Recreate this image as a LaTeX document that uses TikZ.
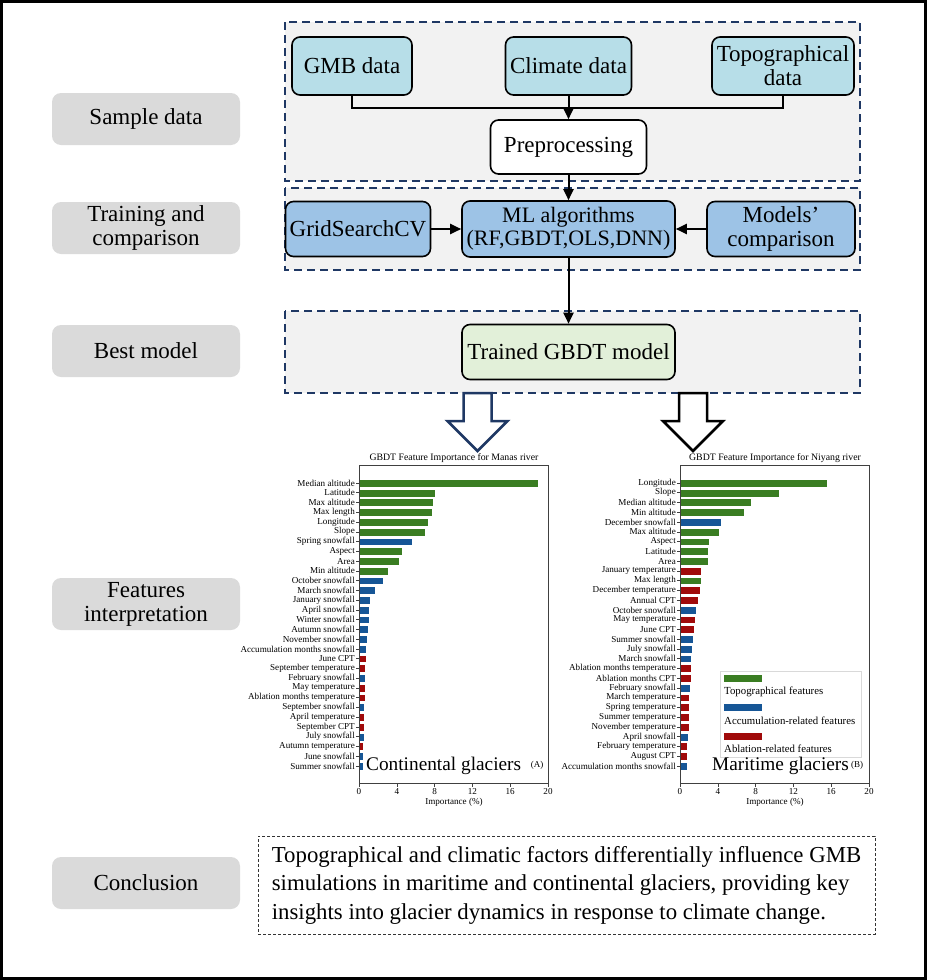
\documentclass[tikz,border=0pt]{standalone}
\usepackage{fontspec}
\setmainfont{Liberation Serif}
\usepackage{tikz}
\usetikzlibrary{arrows.meta, positioning, calc}
\definecolor{datablue}{HTML}{B7DEE8}
\definecolor{mlblue}{HTML}{9DC3E6}
\definecolor{modelgreen}{HTML}{E2F0D9}
\definecolor{stagegray}{HTML}{DADADA}
\definecolor{panelgray}{HTML}{F2F2F2}
\definecolor{framenavy}{HTML}{1F3864}
\definecolor{topogreen}{HTML}{3A7D22}
\definecolor{accublue}{HTML}{165696}
\definecolor{ablared}{HTML}{A00A0A}

\begin{document}
\begin{tikzpicture}[
    x=1pt, y=-1pt,
    stage/.style={rectangle, fill=stagegray, rounded corners=9pt, minimum width=188pt,
                  minimum height=52pt, align=center, inner sep=0pt,
                  font=\fontsize{23}{24}\selectfont},
    box/.style={rectangle, draw=black, line width=1.6pt, fill=#1, rounded corners=8pt,
                align=center, inner sep=0pt, font=\fontsize{23}{24}\selectfont},
    box/.default=white,
    panel/.style={draw=framenavy, fill=panelgray, line width=2pt, dash pattern=on 8pt off 5pt},
    link/.style={line width=2pt},
    arrow/.style={link, -{Triangle[length=11pt, width=10pt]}},
    hollow/.style={line width=2.5pt, fill=white, line join=miter},
    bar/.style={fill=#1, draw=white, line width=0.3pt},
    featlabel/.style={anchor=east, inner sep=0pt, font=\fontsize{9.1}{10}\selectfont},
    ticklabel/.style={anchor=north, inner sep=0pt, font=\fontsize{9.1}{10}\selectfont},
    charttitle/.style={inner sep=0pt, font=\fontsize{9.8}{11}\selectfont},
    axisframe/.style={draw=black!75, line width=0.8pt},
    tickmark/.style={black!75, line width=0.6pt},
    legendtext/.style={anchor=west, inner sep=0pt, font=\fontsize{10.8}{12}\selectfont},
    glacier/.style={anchor=west, inner sep=0pt, font=\fontsize{19.3}{20}\selectfont},
    panelmark/.style={inner sep=0pt, font=\fontsize{9}{10}\selectfont},
    conclbox/.style={draw=black!80, line width=0.9pt, dash pattern=on 3pt off 2pt,
                     minimum width=617pt, minimum height=98pt,
                     align=left, inner sep=0pt, font=\fontsize{22.8}{28.5}\selectfont}
]
\useasboundingbox (0,0) rectangle (927,980);
\draw[line width=3pt] (1.5,1.5) rectangle (925.5,978.5);

% Stages
\node[stage] (sample) at (146,119) {Sample data};
\node[stage] (training) at (146,228) {Training and\\comparison};
\node[stage] (best) at (146,351) {Best model};
\node[stage] (features) at (146,604) {Features\\interpretation};
\node[stage] (conclusion) at (146,883) {Conclusion};

% Panels
\draw[panel] (285,22) rectangle (860,181);
\draw[panel] (285,188) rectangle (860,270);
\draw[panel] (285,311) rectangle (860,393);

% Components
\node[box=datablue, minimum width=120pt, minimum height=58pt] (gmb) at (352,66) {GMB data};
\node[box=datablue, minimum width=126pt, minimum height=58pt] (climate) at (568.5,66) {Climate data};
\node[box=datablue, minimum width=142pt, minimum height=58pt] (topo) at (783,66) {Topographical\\data};
\node[box, minimum width=156pt, minimum height=54pt] (pre) at (568.5,147) {Preprocessing};

\node[box=mlblue, minimum width=145pt, minimum height=55pt] (grid) at (358,229) {GridSearchCV};
\node[box=mlblue, minimum width=213pt, minimum height=56pt,
      font=\fontsize{22}{23}\selectfont] (ml) at (568.5,229) {ML algorithms\\(RF,GBDT,OLS,DNN)};
\node[box=mlblue, minimum width=148pt, minimum height=55pt] (comp) at (781,229) {Models'\\comparison};

\node[box=modelgreen, minimum width=213pt, minimum height=55pt] (trained) at (568.5,352) {Trained GBDT model};

% Arrows
\coordinate (merge) at (568.5,108);
\draw[link] (gmb.south) |- (merge) -| (topo.south);
\draw[arrow] (climate.south) -- (pre.north);
\draw[arrow] (pre.south) -- (ml.north);
\draw[arrow] (grid.east) -- (ml.west);
\draw[arrow] (comp.west) -- (ml.east);
\draw[arrow] (ml.south) -- (trained.north);

% Hollow arrows
\draw[hollow, draw=framenavy] (463.5,393) -- (491.5,393) -- (491.5,421) -- (507.5,421)
    -- (477.5,451) -- (447.5,421) -- (463.5,421) -- cycle;
\draw[hollow, draw=black] (679,393) -- (707,393) -- (707,421) -- (723,421)
    -- (693,451) -- (663,421) -- (679,421) -- cycle;

% Chart A: Manas river
\node[charttitle] (titleA) at (454,458) {GBDT Feature Importance for Manas river};
\foreach \lab/\val/\col [count=\i from 0] in {
    Median altitude/19.0/topogreen, Latitude/8.1/topogreen, Max altitude/7.8/topogreen,
    Max length/7.7/topogreen, Longitude/7.3/topogreen, Slope/7.0/topogreen,
    Spring snowfall/5.6/accublue, Aspect/4.6/topogreen, Area/4.2/topogreen,
    Min altitude/3.1/topogreen, October snowfall/2.6/accublue, March snowfall/1.7/accublue,
    January snowfall/1.2/accublue, April snowfall/1.1/accublue, Winter snowfall/1.1/accublue,
    Autumn snowfall/1.0/accublue, November snowfall/0.85/accublue,
    Accumulation months snowfall/0.8/accublue, June CPT/0.72/ablared,
    September temperature/0.66/ablared, February snowfall/0.65/accublue,
    May temperature/0.62/ablared, Ablation months temperature/0.6/ablared,
    September snowfall/0.56/accublue, April temperature/0.55/ablared,
    September CPT/0.52/ablared, July snowfall/0.5/accublue,
    Autumn temperature/0.46/ablared, June snowfall/0.45/accublue,
    Summer snowfall/0.44/accublue} {
  \draw[bar=\col] (359,{483+\i*9.76-3.9}) rectangle ({359+\val*9.45},{483+\i*9.76+3.9});
  \draw[tickmark] (359,{483+\i*9.76}) -- ++(-3.5,0);
  \node[featlabel] (manas\i) at (355,{483+\i*9.76}) {\lab};
}
\draw[axisframe] (359,465) rectangle (548,783);
\foreach \t in {0,4,8,12,16,20} {
  \draw[tickmark] ({359+\t*9.45},783) -- ++(0,3.5);
  \node[ticklabel] (tickA\t) at ({359+\t*9.45},788) {\t};
}
\node[ticklabel] (xlabA) at (454,798) {Importance (\%)};
\node[glacier] (contA) at (366,766) {Continental glaciers};
\node[panelmark] (markA) at (537,765) {(A)};

% Chart B: Niyang river
\node[charttitle] (titleB) at (775,458) {GBDT Feature Importance for Niyang river};
\foreach \lab/\val/\col [count=\i from 0] in {
    Longitude/15.6/topogreen, Slope/10.5/topogreen, Median altitude/7.5/topogreen,
    Min altitude/6.8/topogreen, December snowfall/4.4/accublue, Max altitude/4.1/topogreen,
    Aspect/3.1/topogreen, Latitude/3.0/topogreen, Area/3.0/topogreen,
    January temperature/2.2/ablared, Max length/2.2/topogreen,
    December temperature/2.15/ablared, Annual CPT/1.9/ablared,
    October snowfall/1.7/accublue, May temperature/1.65/ablared, June CPT/1.5/ablared,
    Summer snowfall/1.35/accublue, July snowfall/1.3/accublue, March snowfall/1.2/accublue,
    Ablation months temperature/1.15/ablared, Ablation months CPT/1.15/ablared,
    February snowfall/1.05/accublue, March temperature/1.0/ablared,
    Spring temperature/1.0/ablared, Summer temperature/0.95/ablared,
    November temperature/0.95/ablared, April snowfall/0.85/accublue,
    February temperature/0.8/ablared, August CPT/0.8/ablared,
    Accumulation months snowfall/0.8/accublue} {
  \draw[bar=\col] (680,{483+\i*9.76-3.9}) rectangle ({680+\val*9.45},{483+\i*9.76+3.9});
  \draw[tickmark] (680,{483+\i*9.76}) -- ++(-3.5,0);
  \node[featlabel] (niyang\i) at (676,{483+\i*9.76}) {\lab};
}
\draw[axisframe] (680,465) rectangle (869,783);
\foreach \t in {0,4,8,12,16,20} {
  \draw[tickmark] ({680+\t*9.45},783) -- ++(0,3.5);
  \node[ticklabel] (tickB\t) at ({680+\t*9.45},788) {\t};
}
\node[ticklabel] (xlabB) at (775,798) {Importance (\%)};

% Legend
\draw[draw=black!15, fill=white, line width=0.6pt] (720,671) rectangle (861,757);
\fill[topogreen] (724,675) rectangle (762,682);
\node[legendtext] (legtopo) at (724,692) {Topographical features};
\fill[accublue] (724,704) rectangle (762,711);
\node[legendtext] (legaccu) at (724,721) {Accumulation-related features};
\fill[ablared] (724,733) rectangle (762,740);
\node[legendtext] (legabla) at (724,749) {Ablation-related features};
\node[glacier] (mariB) at (712,766) {Maritime glaciers};
\node[panelmark] (markB) at (857,765) {(B)};

% Conclusion
\node[conclbox] (concl) at (566.5,885) {Topographical and climatic factors differentially influence GMB\\
simulations in maritime and continental glaciers, providing key\\
insights into glacier dynamics in response to climate change.};

\end{tikzpicture}
\end{document}
